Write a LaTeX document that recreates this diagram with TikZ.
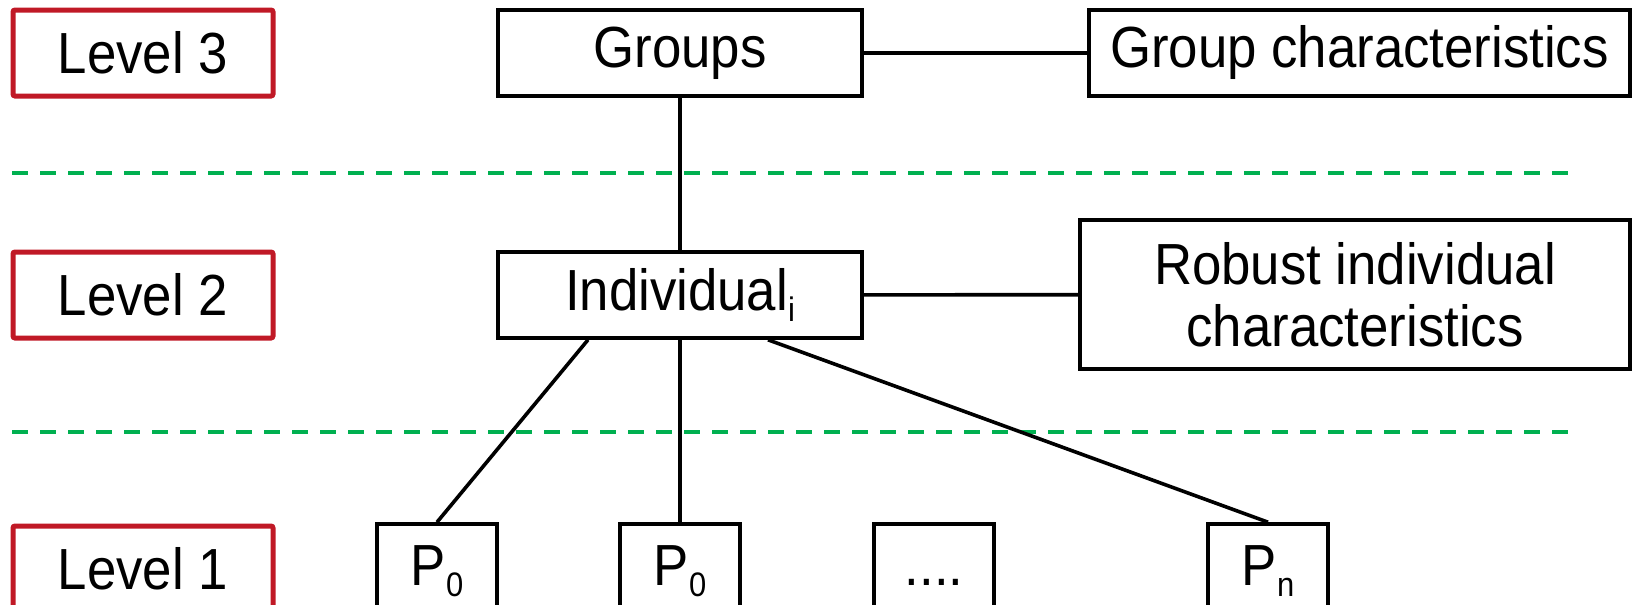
\documentclass[tikz,border=0pt]{standalone}
\usepackage{fontspec}
\setmainfont{Liberation Sans}[FakeStretch=0.91]
\definecolor{lvlred}{RGB}{192,25,38}
\definecolor{sepgreen}{RGB}{0,176,80}
\newcommand{\lowsub}[1]{\raisebox{-0.2em}{\fontsize{17}{17}\selectfont #1}}

\begin{document}
\begin{tikzpicture}[x=0.5pt,y=-0.5pt,font=\fontsize{29}{31}\selectfont,
  lvl/.style={draw=lvlred,line width=2.5pt,rounded corners=1pt,minimum width=130pt,minimum height=43pt,inner sep=0pt},
  box/.style={draw,line width=1.8pt,minimum height=43pt,inner sep=0pt},
  pbox/.style={box,minimum width=60pt,minimum height=47pt,text height=21pt,text depth=7pt},
  link/.style={line width=1.8pt}]
\useasboundingbox (0,0) rectangle (1633,605);
% level labels
\node[lvl] (lvl3) at (143,53) {Level 3};
\node[lvl] (lvl2) at (143,295) {Level 2};
\node[lvl] (lvl1) at (143,569) {Level 1};
% separators
\draw[sepgreen,line width=2pt,dash pattern=on 8pt off 6pt] (12,173) -- (1571,173);
\draw[sepgreen,line width=2pt,dash pattern=on 8pt off 6pt] (12,432) -- (1571,432);
% level 3
\node[box,minimum width=182pt] (groups) at (680,53) {Groups};
\node[box,minimum width=270.5pt] (gchar) at (1359.5,53) {Group characteristics};
% level 2
\node[box,minimum width=182pt] (indiv) at (680,295) {Individual\lowsub{i}};
\node[box,minimum width=275pt,minimum height=74.5pt,align=center] (robust) at (1355,294.5) {Robust individual\\characteristics};
% level 1
\node[pbox] (pa) at (437,571) {P\lowsub{0}};
\node[pbox] (pb) at (680,571) {P\lowsub{0}};
\node[pbox] (pdots) at (934,571) {....};
\node[pbox] (pn) at (1268,571) {P\lowsub{n}};

\draw[link] (groups) -- (gchar);
\draw[link] (groups) -- (indiv);
\draw[link] (indiv) -- (robust);
\draw[link] ([xshift=-46pt]indiv.south) -- (pa.north);
\draw[link] (indiv.south) -- (pb.north);
\draw[link] ([xshift=44pt]indiv.south) -- (pn.north);

\end{tikzpicture}
\end{document}
